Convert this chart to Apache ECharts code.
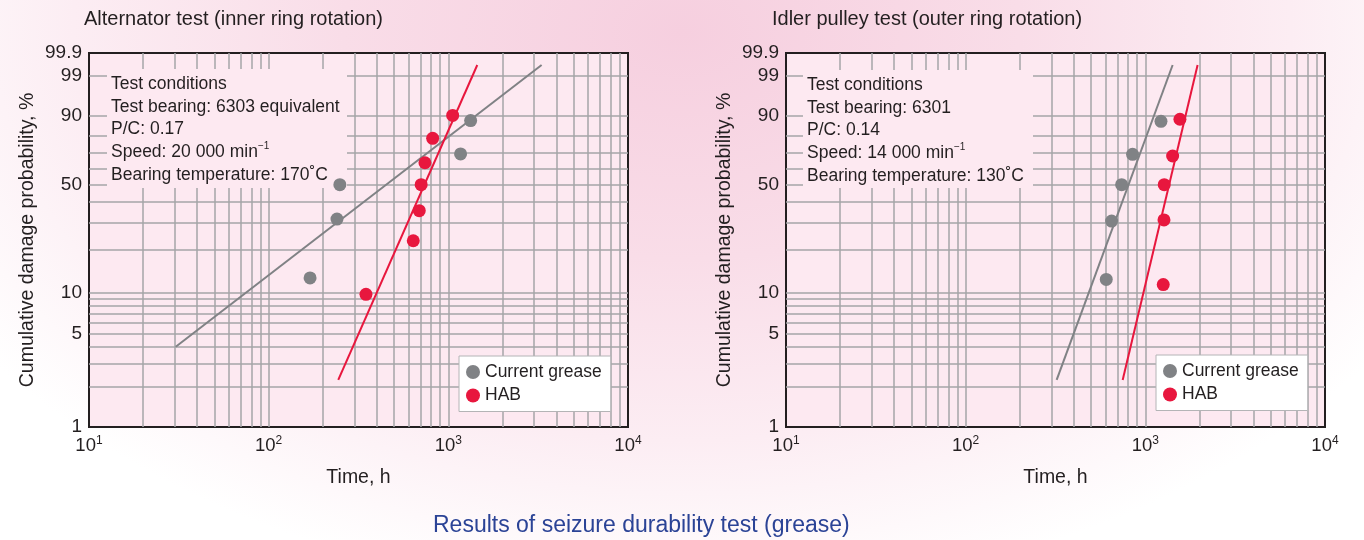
<!DOCTYPE html>
<html>
<head>
<meta charset="utf-8">
<script src="https://cdn.jsdelivr.net/npm/echarts@6/dist/echarts.min.js"></script>
<style>
  html, body { margin: 0; padding: 0; background: #fff; }
  #chart {
    width: 1364px; height: 540px;
    background: radial-gradient(ellipse 62% 105% at 50% 6%, #f6cfdf 0%, #f9dde8 40%, #fcedf3 72%, #ffffff 100%);
  }
</style>
</head>
<body>
<div id="chart"></div>
<script>
// Weibull probability paper: y = ln(-ln(1-F))
const wb = p => Math.log(-Math.log(1 - p / 100))

// axis labels
const yLabels = [1, 5, 10, 50, 90, 99, 99.9]
// grid lines
const yGridProb = [2, 3, 4, 5, 6, 7, 8, 9, 10, 20, 30, 40, 50, 60, 70, 80, 90, 99]
const xGridTime = [20, 30, 40, 50, 60, 70, 80, 90, 100, 200, 300, 400, 500, 600, 700, 800, 900,
  1000, 2000, 3000, 4000, 5000, 6000, 7000, 8000, 9000]

// Alternator test (inner ring rotation)
const altCurrentTime = [170, 240, 249, 1170, 1331]
const altCurrentProb = [12.7, 31.6, 50, 69.4, 88.0]
const altHabTime = [348, 638, 689, 706, 741, 818, 1057]
const altHabProb = [9.7, 22.9, 35.6, 50, 63.8, 78.9, 90.2]
const altCurrentFitTime = [30.4, 3305]
const altCurrentFitProb = [4.0, 99.63]
const altHabFitTime = [244, 1449]
const altHabFitProb = [2.26, 99.63]

// Idler pulley test (outer ring rotation)
const idlCurrentTime = [606, 649, 738, 849, 1222]
const idlCurrentProb = [12.4, 30.7, 50, 69.2, 87.7]
const idlHabTime = [1258, 1270, 1274, 1419, 1558]
const idlHabProb = [11.4, 31.2, 50, 68.1, 88.6]
const idlCurrentFitTime = [321, 1419]
const idlCurrentFitProb = [2.26, 99.63]
const idlHabFitTime = [748, 1954]
const idlHabFitProb = [2.26, 99.63]

const FONT = '"Liberation Sans", Arial, Helvetica, sans-serif'
const TEXT = '#231f20'
const GRAY = '#808285'
const RED = '#e8173e'
const PLOT_BG = '#fde9f1'
const GRIDLINE = '#a5a5a7'

const pairs = (ts, ps) => ts.map((t, i) => [t, wb(ps[i])])

const chart = echarts.init(document.getElementById('chart'))

const grids = [
  { left: 89, top: 53, width: 539, height: 374 },
  { left: 786, top: 53, width: 539, height: 374 }
]

const makeX = (i) => ({
  type: 'log', logBase: 10, min: 10, max: 10000, gridIndex: i,
  name: 'Time, h', nameLocation: 'middle', nameGap: 41,
  nameTextStyle: { fontFamily: FONT, fontSize: 19.5, color: TEXT },
  axisLine: { show: false }, axisTick: { show: false }, splitLine: { show: false },
  axisLabel: {
    margin: 8, fontFamily: FONT, color: TEXT,
    formatter: v => '{b|10}{s|' + Math.round(Math.log10(v)) + '}',
    rich: {
      b: { fontFamily: FONT, fontSize: 18.5, color: TEXT, lineHeight: 22 },
      s: { fontFamily: FONT, fontSize: 12, color: TEXT, lineHeight: 22, verticalAlign: 'top', padding: [0, 0, 8, 0] }
    }
  }
})

const makeY = (i) => ({
  type: 'value', min: wb(1), max: wb(99.9), gridIndex: i,
  name: 'Cumulative damage probability, %', nameLocation: 'middle', nameGap: 51,
  nameTextStyle: { fontFamily: FONT, fontSize: 19.5, color: TEXT },
  axisLine: { show: false }, axisTick: { show: false }, splitLine: { show: false },
  axisLabel: {
    margin: 7, fontFamily: FONT, fontSize: 19, color: TEXT,
    customValues: yLabels.map(wb),
    formatter: v => {
      const hit = yLabels.find(p => Math.abs(wb(p) - v) < 1e-6)
      return hit === undefined ? '' : String(hit)
    }
  }
})

const gridLines = (i) => ({
  name: 'grid' + i, type: 'line', data: [], xAxisIndex: i, yAxisIndex: i, z: 1,
  silent: true,
  markLine: {
    z: 1, silent: true, symbol: ['none', 'none'], animation: false,
    label: { show: false },
    lineStyle: { color: GRIDLINE, width: 1.5, type: 'solid' },
    emphasis: { disabled: true },
    data: xGridTime.map(t => ({ xAxis: t })).concat(yGridProb.map(p => ({ yAxis: wb(p) })))
  }
})

const dots = (name, color, data, i) => ({
  name, type: 'scatter', data, xAxisIndex: i, yAxisIndex: i, z: 6,
  symbol: 'circle', symbolSize: 13, itemStyle: { color, opacity: 1 }
})

const fit = (name, color, data, i) => ({
  name, type: 'line', data, xAxisIndex: i, yAxisIndex: i, z: 5,
  showSymbol: false, symbol: 'none', lineStyle: { color, width: 2 }
})

const legend = (left, top) => ({
  left, top, orient: 'vertical', z: 10,
  data: ['Current grease', 'HAB'],
  icon: 'circle', itemWidth: 14, itemHeight: 14, itemGap: 3.5,
  backgroundColor: '#ffffff', borderColor: '#b4b4b6', borderWidth: 1,
  padding: [6, 9, 6, 7],
  itemStyle: { opacity: 1 },
  textStyle: { fontFamily: FONT, fontSize: 17.5, color: TEXT, lineHeight: 20 },
  selectedMode: false
})

const condBox = (x, y, w, h, lines) => ({
  type: 'group', z: 3,
  children: [
    { type: 'rect', z: 3, shape: { x, y, width: w, height: h }, style: { fill: PLOT_BG } },
    {
      type: 'text', z: 3, x: x + 4, y: y + 4,
      style: {
        text: lines.join('\n'), fill: TEXT, font: '17.5px ' + FONT, lineHeight: 22.6,
        rich: { s: { fontSize: 10, fontFamily: FONT, fill: TEXT, verticalAlign: 'top', lineHeight: 18 } }
      }
    }
  ]
})

chart.setOption({
  animation: false,
  textStyle: { fontFamily: FONT },
  title: [
    { text: 'Alternator test (inner ring rotation)', left: 84, top: 9, padding: 0,
      textStyle: { fontFamily: FONT, fontSize: 20, fontWeight: 'normal', color: TEXT } },
    { text: 'Idler pulley test (outer ring rotation)', left: 772, top: 9, padding: 0,
      textStyle: { fontFamily: FONT, fontSize: 20, fontWeight: 'normal', color: TEXT } },
    { text: 'Results of seizure durability test (grease)', left: 433, top: 514, padding: 0,
      textStyle: { fontFamily: FONT, fontSize: 23, fontWeight: 'normal', color: '#2b4396' } }
  ],
  grid: grids.map(g => Object.assign({ show: true, backgroundColor: PLOT_BG, borderColor: TEXT, borderWidth: 2 }, g)),
  xAxis: [makeX(0), makeX(1)],
  yAxis: [makeY(0), makeY(1)],
  legend: [legend(459, 356), legend(1156, 355)],
  graphic: [
    condBox(107, 69, 240, 119, [
      'Test conditions',
      'Test bearing: 6303 equivalent',
      'P/C: 0.17',
      'Speed: 20 000 min{s|−1}',
      'Bearing temperature: 170˚C'
    ]),
    condBox(803, 70, 230, 118, [
      'Test conditions',
      'Test bearing: 6301',
      'P/C: 0.14',
      'Speed: 14 000 min{s|−1}',
      'Bearing temperature: 130˚C'
    ])
  ],
  series: [
    gridLines(0),
    gridLines(1),
    fit('Current grease fit', GRAY, pairs(altCurrentFitTime, altCurrentFitProb), 0),
    fit('HAB fit', RED, pairs(altHabFitTime, altHabFitProb), 0),
    dots('Current grease', GRAY, pairs(altCurrentTime, altCurrentProb), 0),
    dots('HAB', RED, pairs(altHabTime, altHabProb), 0),
    fit('Current grease fit', GRAY, pairs(idlCurrentFitTime, idlCurrentFitProb), 1),
    fit('HAB fit', RED, pairs(idlHabFitTime, idlHabFitProb), 1),
    dots('Current grease', GRAY, pairs(idlCurrentTime, idlCurrentProb), 1),
    dots('HAB', RED, pairs(idlHabTime, idlHabProb), 1)
  ]
})
</script>
</body>
</html>
